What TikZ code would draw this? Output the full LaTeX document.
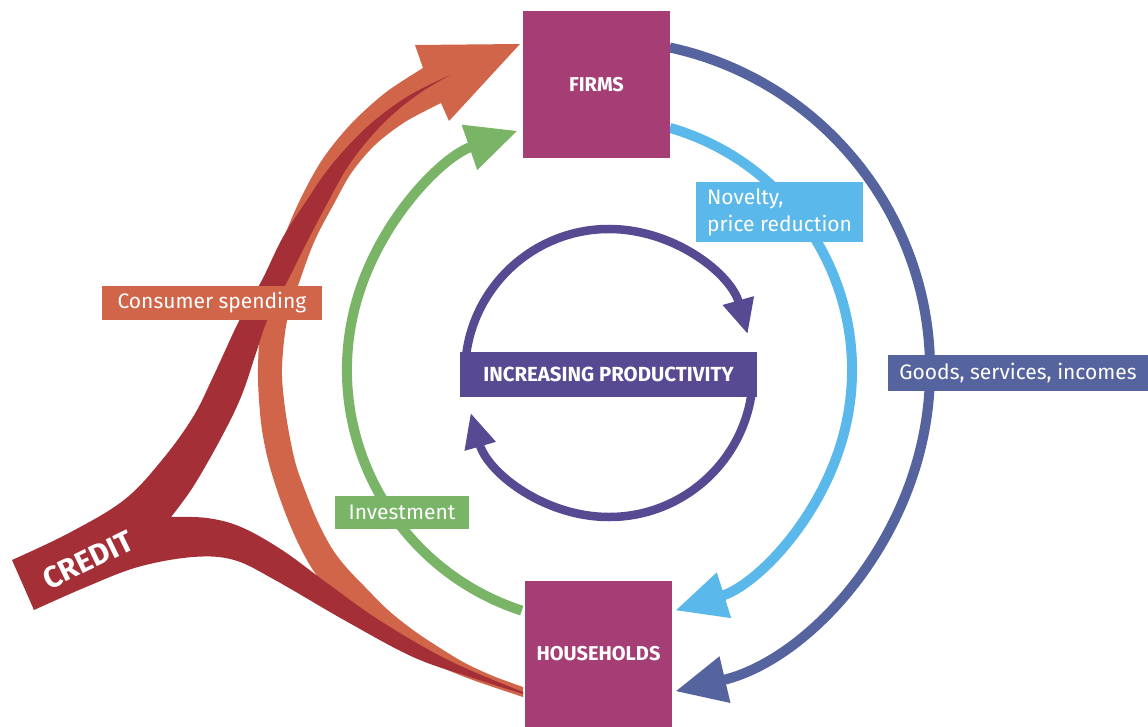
\documentclass[tikz,border=0pt]{standalone}
\usepackage{fontspec}
\setmainfont{Fira Sans}
\usetikzlibrary{arrows.meta}
\definecolor{cbox}{HTML}{A43E74}
\definecolor{corange}{HTML}{D0654A}
\definecolor{cred}{HTML}{A52F37}
\definecolor{cgreen}{HTML}{79B467}
\definecolor{clblue}{HTML}{5BB8EA}
\definecolor{cdblue}{HTML}{55649F}
\definecolor{cpurple}{HTML}{574A92}
\begin{document}
\begin{tikzpicture}[x=1pt,y=-1pt,
  blk/.style={fill=cbox, minimum width=147pt, minimum height=147pt, inner sep=0pt,
    text=white, font=\bfseries\fontsize{20}{24}\selectfont},
  lab/.style={inner sep=0pt, text=white, font=\fontsize{21}{27}\selectfont},
  flow/.style={line width=10pt},
  bighead/.style={-{Triangle[length=51pt,width=45pt]}},
  smallhead/.style={-{Triangle[length=35pt,width=30pt]}}
]
\useasboundingbox (0,0) rectangle (1148,727);
\coordinate (C) at (600,370);
\coordinate (P) at (609,373);

% outer and inner right arcs
\draw[flow, cdblue, bighead] ([shift={(-77.8:330)}]C) coordinate (dbs)
  arc[start angle=-77.8, end angle=76.8, radius=330] coordinate (dbe);
\draw[flow, clblue, bighead] ([shift={(-73.9:252)}]C) coordinate (lbs)
  arc[start angle=-73.9, end angle=72.6, radius=252] coordinate (lbe);
% green investment arc
\draw[flow, cgreen, bighead] ([shift={(108:253)}]C) coordinate (gs)
  arc[start angle=108, end angle=251, radius=253] coordinate (ge);

% orange consumer spending arrow
\fill[corange] plot[smooth, tension=0.55] coordinates {(523,697) (470,679) (425,660) (390,640) (356,615) (329,590) (313,570) (300,547) (288,520) (277,490) (268,460) (262,430) (259,400) (258,367) (261,320) (270,280) (283,240) (300,200) (322,160) (350,125) (385,93) (423,68)}
  -- (415,45) -- (520,44) -- (449,121) -- (441,103)
  -- plot[smooth, tension=0.55] coordinates {(441,103) (405,122) (375,145) (352,172) (336,200) (315,240) (300,280) (287,321) (282,367) (284,400) (289,433) (296,465) (306,493) (317,520) (331,547) (346,567) (365,587) (388,610) (413,630) (440,648) (465,663) (493,676) (523,687)} -- cycle;

% dark red credit shape
\fill[cred] (12,560)
  -- plot[smooth, tension=0.6] coordinates {(12,560) (69,533) (124,500) (162,460) (193,417) (213,377) (239,321) (262,280) (283,237) (307,200) (326,172) (348,146) (375,120) (410,95) (450,75)}
  -- plot[smooth, tension=0.6] coordinates {(450,75) (420,93) (392,115) (368,140) (347,168) (329,200) (308,240) (288,280) (267,321) (257,350) (241,397) (220,440) (193,487) (171,517)}
  -- plot[smooth, tension=0.6] coordinates {(171,517) (207,518) (241,527) (282,550) (327,583) (379,620) (448,660) (523,692)}
  -- plot[smooth, tension=0.6] coordinates {(523,694) (470,677) (413,657) (344,620) (275,580) (234,560) (193,557) (138,567) (86,587) (34,610)}
  -- cycle;
\node[text=white, font=\bfseries\fontsize{30}{36}\selectfont, rotate=26, inner sep=0pt] (credit) at (88,560) {CREDIT};

% purple productivity cycle
\draw[line width=8.5pt, cpurple, smallhead] ([shift={(183:144)}]P) arc[start angle=183, end angle=344.4, radius=144];
\draw[line width=8.5pt, cpurple, smallhead] ([shift={(3:144)}]P) arc[start angle=3, end angle=164, radius=144];

% boxes
\node[blk] (firms) at (596.5,84.5) {FIRMS};
\node[blk, minimum height=146pt] (house) at (598.5,654) {HOUSEHOLDS};

% labels
\node[lab, fill=corange, minimum width=220pt, minimum height=34pt] (cs) at (212,303) {Consumer spending};
\node[lab, fill=clblue, minimum width=167pt, minimum height=60pt, align=left] (nov) at (779.5,212) {Novelty,\\price reduction};
\node[lab, fill=cdblue, minimum width=260pt, minimum height=36pt] (gsi) at (1018,373) {Goods, services, incomes};
\node[lab, fill=cgreen, minimum width=134pt, minimum height=33pt] (inv) at (402,512.5) {Investment};
\node[lab, fill=cpurple, minimum width=297pt, minimum height=45pt, font=\bfseries\fontsize{20.4}{24}\selectfont] (prod) at (608.5,374.5) {INCREASING PRODUCTIVITY};
\end{tikzpicture}
\end{document}
